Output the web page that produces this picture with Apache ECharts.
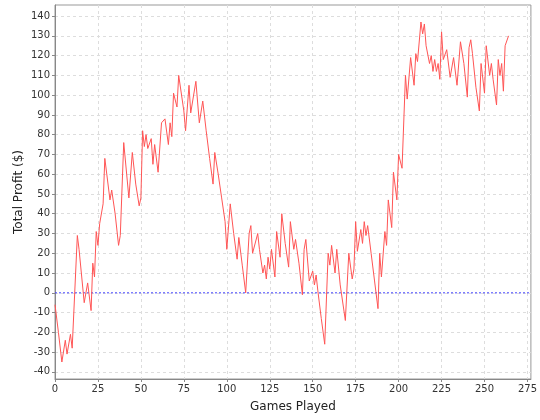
<!DOCTYPE html>
<html>
<head>
<meta charset="utf-8">
<script src="https://cdn.jsdelivr.net/npm/echarts@6/dist/echarts.min.js"></script>
<style>
    html, body { margin: 0; padding: 0; background: #ffffff; }
    #chart { width: 540px; height: 420px; }
</style>
</head>
<body>
<div id="chart"></div>
<script>
// games played (x) and running profit (y) at the visible turning points
var games = [0, 2, 4, 6, 7, 9, 10, 13, 14, 17, 19, 21, 22, 23, 24, 25, 26, 28, 29, 32, 33, 35, 37, 38,
    40, 43, 45, 47, 49, 50, 51, 52, 53, 54, 56, 57, 58, 60, 62, 64, 66, 67, 68, 69, 71, 72, 75, 76, 78, 79,
    82, 84, 86, 88, 90, 92, 93, 95, 97, 99, 100, 102, 104, 106, 107, 109, 111, 113, 114, 115, 118, 119,
    121, 122, 123, 124, 125, 126, 128, 129, 131, 132, 134, 136, 137, 139, 140, 142, 144, 145, 146, 148,
    150, 151, 152, 153, 155, 157, 159, 160, 161, 163, 164, 166, 169, 171, 173, 174, 175, 176, 178, 179,
    180, 181, 182, 184, 186, 188, 189, 190, 192, 193, 194, 196, 197, 199, 200, 202, 204, 205, 207, 209,
    210, 211, 213, 214, 215, 216, 218, 219, 220, 221, 222, 223, 224, 225, 226, 228, 230, 232, 234, 236,
    238, 240, 241, 242, 243, 245, 247, 248, 250, 251, 253, 254, 255, 257, 258, 259, 260, 261, 262, 264];
var profit = [-6, -20, -35, -24, -31, -21, -28, 29, 22, -5, 5, -9, 15, 8, 31, 24, 35, 45, 68, 47, 52, 40, 24, 29,
    76, 48, 71, 55, 44, 48, 82, 74, 80, 73, 78, 65, 75, 61, 86, 88, 75, 86, 79, 101, 94, 110, 92, 82, 105, 91,
    107, 86, 97, 82, 68, 55, 71, 60, 48, 36, 22, 45, 30, 17, 28, 14, 0, 30, 34, 20, 30, 22,
    10, 14, 7, 18, 12, 22, 8, 31, 18, 40, 25, 13, 36, 22, 27, 15, -1, 22, 27, 6,
    11, 4, 9, 1, -13, -26, 20, 14, 24, 10, 22, 4, -14, 20, 7, 12, 36, 21, 32, 25,
    36, 29, 34, 20, 6, -8, 20, 8, 31, 24, 47, 33, 61, 47, 70, 63, 110, 98, 119, 105,
    121, 117, 137, 131, 136, 125, 116, 120, 112, 118, 112, 116, 108, 132, 118, 123, 109, 119, 105, 127,
    116, 99, 124, 128, 121, 104, 92, 116, 101, 125, 110, 116, 108, 95, 118, 110, 116, 102, 125, 130];
var xTicks = [0, 25, 50, 75, 100, 125, 150, 175, 200, 225, 250, 275];
var yTicks = [-40, -30, -20, -10, 0, 10, 20, 30, 40, 50, 60, 70, 80, 90, 100, 110, 120, 130, 140];
var xRange = [0, 277];
var yRange = [-43.6, 145.6];
var zeroLevel = 0;

var points = [];
for (var i = 0; i < games.length; i++) {
    points.push([games[i], profit[i]]);
}
// horizontal zero marker across the whole x range
var zeroLine = [[xRange[0], zeroLevel], [xRange[1], zeroLevel]];

var chart = echarts.init(document.getElementById('chart'));
var labelFont = { fontFamily: 'DejaVu Sans', fontSize: 10, color: '#333333' };
var option = {
    backgroundColor: '#ffffff',
    animation: false,
    grid: {
        left: 55,
        right: 8,
        top: 5,
        bottom: 41,
        show: true,
        borderColor: '#999999',
        borderWidth: 1
    },
    xAxis: {
        type: 'value',
        min: xRange[0],
        max: xRange[1],
        name: 'Games Played',
        nameLocation: 'middle',
        nameGap: 22,
        nameMoveOverlap: false,
        nameTextStyle: { fontFamily: 'DejaVu Sans', fontSize: 12, color: '#222222' },
        axisLine: { show: true, onZero: false, lineStyle: { color: '#888888' } },
        axisTick: { show: true, length: 3, customValues: xTicks, lineStyle: { color: '#888888' } },
        axisLabel: Object.assign({ customValues: xTicks, margin: 5 }, labelFont),
        splitLine: { show: true, lineStyle: { color: '#dddddd', type: [3, 3] } }
    },
    yAxis: {
        type: 'value',
        min: yRange[0],
        max: yRange[1],
        name: 'Total Profit ($)',
        nameLocation: 'middle',
        nameGap: 30,
        nameMoveOverlap: false,
        nameTextStyle: { fontFamily: 'DejaVu Sans', fontSize: 12, color: '#222222' },
        axisLine: { show: true, onZero: false, lineStyle: { color: '#888888' } },
        axisTick: { show: true, length: 3, customValues: yTicks, lineStyle: { color: '#888888' } },
        axisLabel: Object.assign({ customValues: yTicks, margin: 5 }, labelFont),
        splitLine: { show: true, lineStyle: { color: '#dddddd', type: [3, 3] } }
    },
    series: [
        {
            name: 'Zero',
            type: 'line',
            data: zeroLine,
            showSymbol: false,
            silent: true,
            lineStyle: { color: '#4444ff', type: [2, 2], width: 1 }
        },
        {
            name: 'Profit',
            type: 'line',
            data: points,
            showSymbol: false,
            lineStyle: { color: '#ff5555', width: 1 }
        }
    ]
};
chart.setOption(option);
</script>
</body>
</html>
